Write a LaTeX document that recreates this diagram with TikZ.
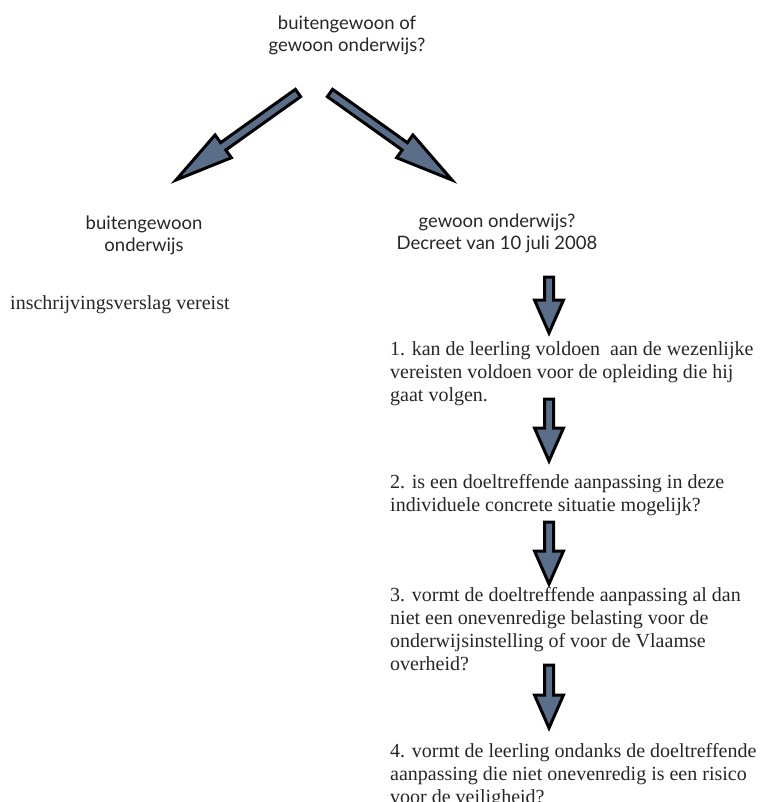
\documentclass[tikz,border=0pt]{standalone}
\usepackage{fontspec}
\setmainfont{Liberation Serif}
\newfontfamily\gillfont{Lato}
\usetikzlibrary{calc}
\definecolor{arrfill}{RGB}{90,110,138}
\tikzset{
  sanslabel/.style={align=center, inner sep=0pt, font=\gillfont\fontsize{18.5}{22}\selectfont, text=black!85},
  seriflabel/.style={align=left, anchor=north west, inner sep=0pt, font=\fontsize{20}{23}\selectfont, text=black!85},
  blockarrow/.style={draw=black, line width=3pt, fill=arrfill, line join=miter, miter limit=10}
}
% #1 start, #2 end, #3 half shaft width, #4 half head width, #5 head length
\newcommand\blockarr[5]{%
  \coordinate (bah) at ($(#2)!#5!(#1)$);
  \path[blockarrow]
    ($(#1)!#3!90:(#2)$) -- ($(bah)!#3!90:(#2)$) -- ($(bah)!#4!90:(#2)$) --
    (#2) -- ($(bah)!#4!-90:(#2)$) -- ($(bah)!#3!-90:(#2)$) --
    ($(#1)!#3!-90:(#2)$) -- cycle;
}
\begin{document}
\begin{tikzpicture}[x=1pt,y=-1pt]
\useasboundingbox (0,0) rectangle (761,802);
% texts
\node[sanslabel] (q) at (347,35) {buitengewoon of\\gewoon onderwijs?};
\node[sanslabel] (bo) at (144,235) {buitengewoon\\onderwijs};
\node[sanslabel] (go) at (497,233) {gewoon onderwijs?\\Decreet van 10 juli 2008};
\node[seriflabel, anchor=west] (ins) at (10,305) {inschrijvingsverslag vereist};
\node[seriflabel] (c1) at (390,341) {1. kan de leerling voldoen\ \ aan de wezenlijke\\vereisten voldoen voor de opleiding die hij\\gaat volgen.};
\node[seriflabel] (c2) at (390,474) {2. is een doeltreffende aanpassing in deze\\individuele concrete situatie mogelijk?};
\node[seriflabel] (c3) at (390,587) {3. vormt de doeltreffende aanpassing al dan\\niet een onevenredige belasting voor de\\onderwijsinstelling of voor de Vlaamse\\overheid?};
\node[seriflabel] (c4) at (390,743) {4. vormt de leerling ondanks de doeltreffende\\aanpassing die niet onevenredig is een risico\\voor de veiligheid?};
% arrow end points
\coordinate (l0) at (298,93);
\coordinate (l1) at (176,180);
\coordinate (r0) at (330,93);
\coordinate (r1) at (452,180);
\coordinate (a0) at (549,277);
\coordinate (a1) at (549,333);
\coordinate (b0) at (549,399);
\coordinate (b1) at (549,461);
\coordinate (d0) at (549,522);
\coordinate (d1) at (549,584);
\coordinate (e0) at (549,665);
\coordinate (e1) at (549,728);
\blockarr{l0}{l1}{4.5pt}{14pt}{58pt}
\blockarr{r0}{r1}{4.5pt}{14pt}{58pt}
\blockarr{a0}{a1}{4.5pt}{14.5pt}{33pt}
\blockarr{b0}{b1}{4.5pt}{14.5pt}{33pt}
\blockarr{d0}{d1}{4.5pt}{14.5pt}{33pt}
\blockarr{e0}{e1}{4.5pt}{14.5pt}{33pt}
\end{tikzpicture}
\end{document}
